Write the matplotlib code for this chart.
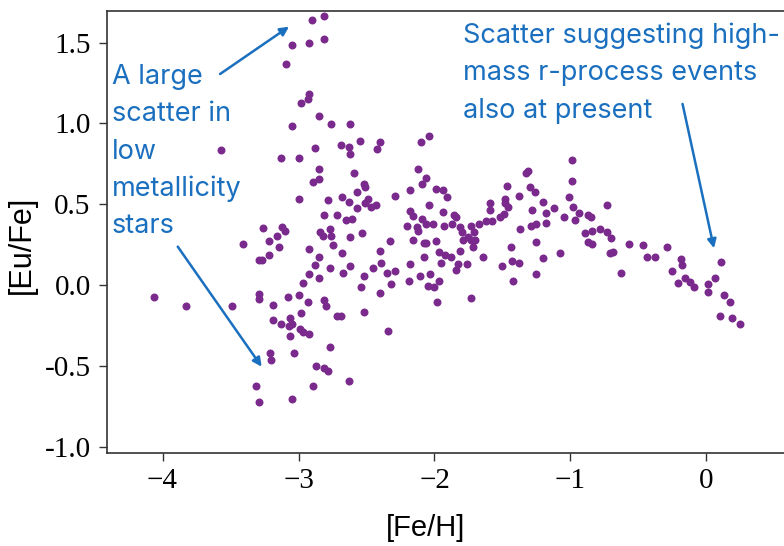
import matplotlib
matplotlib.use("Agg")
import matplotlib.pyplot as plt

# ---- data ----
fe_h = [
    -2.90, -2.81, -3.05, -2.92, -2.81, -3.09, -2.92, -2.93, -2.98, -2.85, -3.05, -2.76, -3.57, -2.88, -3.13, -3.00,
    -2.85, -2.85, -2.89, -3.00, -2.78, -2.81, -2.72, -3.26, -3.12, -3.10,
    -2.84, -2.82, -2.77, -2.76, -3.16, -3.22, -3.41, -3.14, -2.75, -2.92,
    -2.85, -3.22, -3.29, -3.27, -2.88, -2.77, -2.92, -2.85, -2.97, -4.06,
    -3.83, -3.49, -3.29, -3.29, -3.19, -3.08, -3.00, -2.93, -2.81, -2.80,
    -3.19, -3.13, -3.06, -3.07, -3.05, -2.98, -2.99, -2.97, -2.92, -3.06,
    -2.72, -2.69, -2.77, -3.21, -3.20, -3.03, -2.87, -2.81, -2.78, -2.63,
    -3.31, -2.89, -3.29, -3.05,
    -2.52, -2.34,
    -2.62, -2.69, -2.63, -2.62, -2.55, -2.40, -2.42, -2.10, -2.04, -2.59,
    -2.68, -2.63, -2.57, -2.52, -2.51, -2.57, -2.49, -2.51, -2.47, -2.43,
    -2.29, -2.65, -2.61, -2.53, -2.62, -2.68, -2.62, -2.67, -2.52, -2.54,
    -2.45, -2.40, -2.33, -2.39, -2.35, -2.29, -2.32, -2.40,
    -2.12, -2.06, -2.09, -2.18, -1.99, -1.94, -1.91, -2.04, -2.18, -2.16,
    -2.20, -2.13, -2.12, -2.09, -2.06, -2.01, -1.94, -1.86, -1.84, -1.93,
    -1.87, -2.16, -2.08, -2.06, -1.99, -1.81, -1.80, -1.73, -1.71, -1.75,
    -1.79, -1.73, -1.70, -1.72, -2.08, -1.97, -1.92, -1.88, -1.81, -1.95,
    -1.83, -1.76, -1.84, -2.18, -2.11, -2.03, -1.97, -2.19, -2.05, -2.00,
    -1.98, -1.73,
    -1.64, -1.67, -1.62, -1.58, -1.59, -1.59, -1.52, -1.49, -1.48, -1.47,
    -1.48, -1.46, -1.38, -1.33, -1.31, -1.30, -1.26, -1.44, -1.50, -1.43,
    -1.38, -1.42, -1.37, -1.28, -1.29, -1.25, -1.25, -1.20, -1.18, -1.18,
    -1.20, -1.25, -1.12, -1.08,
    -0.99, -0.99, -1.01, -0.98, -0.94, -1.05, -0.97, -0.87, -0.85, -0.73,
    -0.89, -0.84, -0.78, -0.73, -0.70, -0.87, -0.84, -0.71, -0.69, -0.63,
    -0.57, -0.47, -0.44, -0.38, -0.29, -0.19, -0.18, -0.25, -0.16, -0.12,
    -0.09, -0.21, 0.01, 0.01, 0.06, 0.11, 0.13, 0.17, 0.10, 0.19,
    0.25,
]

eu_fe = [
    1.64, 1.665, 1.485, 1.50, 1.52, 1.366, 1.184, 1.153, 1.124, 1.044, 0.982, 0.994, 0.834, 0.848, 0.788, 0.788,
    0.716, 0.654, 0.636, 0.532, 0.524, 0.433, 0.433, 0.353, 0.357, 0.334,
    0.330, 0.303, 0.347, 0.303, 0.301, 0.274, 0.254, 0.233, 0.246, 0.225,
    0.173, 0.184, 0.155, 0.155, 0.124, 0.105, 0.066, 0.045, 0.011, -0.072,
    -0.132, -0.132, -0.056, -0.087, -0.124, -0.072, -0.064, -0.105, -0.091, -0.130,
    -0.217, -0.243, -0.202, -0.254, -0.243, -0.175, -0.274, -0.293, -0.303, -0.316,
    -0.194, -0.194, -0.386, -0.423, -0.464, -0.423, -0.501, -0.515, -0.534, -0.592,
    -0.625, -0.625, -0.724, -0.704,
    -0.165, -0.287,
    0.996, 0.866, 0.856, 0.809, 0.893, 0.885, 0.842, 0.883, 0.924, 0.693,
    0.546, 0.515, 0.577, 0.625, 0.605, 0.478, 0.530, 0.506, 0.485, 0.495,
    0.551, 0.402, 0.408, 0.324, 0.295, 0.196, 0.118, 0.076, 0.056, -0.014,
    0.103, 0.212, 0.272, 0.136, 0.076, 0.087, 0.006, -0.051,
    0.716, 0.664, 0.623, 0.586, 0.592, 0.586, 0.543, 0.495, 0.458, 0.427,
    0.365, 0.361, 0.334, 0.407, 0.377, 0.377, 0.450, 0.435, 0.423, 0.365,
    0.377, 0.278, 0.258, 0.262, 0.272, 0.357, 0.326, 0.365, 0.330, 0.295,
    0.278, 0.278, 0.278, 0.237, 0.175, 0.204, 0.186, 0.175, 0.212, 0.138,
    0.130, 0.128, 0.093, 0.128, 0.056, 0.066, 0.025, 0.025, -0.004, -0.014,
    -0.103, -0.079,
    0.175, 0.377, 0.398, 0.398, 0.506, 0.464, 0.423, 0.437, 0.530, 0.613,
    0.506, 0.485, 0.553, 0.691, 0.705, 0.608, 0.577, 0.237, 0.118, 0.147,
    0.138, 0.025, 0.347, 0.464, 0.365, 0.377, 0.264, 0.515, 0.444, 0.386,
    0.165, 0.068, 0.476, 0.196,
    0.774, 0.644, 0.546, 0.485, 0.447, 0.423, 0.402, 0.435, 0.423, 0.495,
    0.320, 0.334, 0.347, 0.330, 0.293, 0.268, 0.254, 0.196, 0.206, 0.072,
    0.256, 0.246, 0.175, 0.175, 0.233, 0.159, 0.124, 0.087, 0.045, 0.017,
    -0.014, 0.014, 0.005, -0.045, 0.045, 0.142, -0.064, -0.105, -0.192, -0.204,
    -0.241,
]

x_ticks = [-4, -3, -2, -1, 0]
x_tick_labels = ["\u22124", "\u22123", "\u22122", "\u22121", "0"]
y_ticks = [-1.0, -0.5, 0.0, 0.5, 1.0, 1.5]
y_tick_labels = ["-1.0", "-0.5", "0.0", "0.5", "1.0", "1.5"]

x_label = "[Fe/H]"
y_label = "[Eu/Fe]"
note_left = ["A large", "scatter in", "low", "metallicity", "stars"]
note_right = ["Scatter suggesting high-", "mass r-process events", "also at present"]

POINT_COLOR = "#7a2a8c"
NOTE_COLOR = "#1a6fbf"
W, H = 784, 546

fig = plt.figure(figsize=(W / 100, H / 100), dpi=100)
ax = fig.add_axes([107.3 / W, (H - 452.7) / H, (W - 107.3) / W, (452.7 - 11) / H])

ax.scatter(fe_h, eu_fe, s=33, color=POINT_COLOR, linewidths=0, zorder=3)

ax.set_xlim(-4.406, 0.57)
ax.set_ylim(-1.037, 1.696)
ax.spines["right"].set_visible(False)
for sp in ("left", "bottom", "top"):
    ax.spines[sp].set_color("#333333")
    ax.spines[sp].set_linewidth(1.2)

ax.set_xticks(x_ticks)
ax.set_xticklabels(x_tick_labels, family="Liberation Serif", fontsize=21)
ax.set_yticks(y_ticks)
ax.set_yticklabels(y_tick_labels, family="Liberation Serif", fontsize=21)
ax.tick_params(axis="both", direction="out", length=6, width=1.0, color="#333333")
ax.tick_params(axis="x", pad=5)
ax.tick_params(axis="y", pad=6)

fig.text(426 / W, 1 - 536 / H, x_label, family="Liberation Sans", fontsize=21,
         ha="center", va="baseline")
fig.text(22 / W, 1 - 245 / H, y_label, family="Liberation Sans", fontsize=22,
         ha="center", va="center", rotation=90)

# annotation texts
for i, line in enumerate(note_left):
    fig.text(112 / W, 1 - (84 + 37.3 * i) / H, line, family="Inter", fontsize=19.5,
             color=NOTE_COLOR, ha="left", va="baseline")
for i, line in enumerate(note_right):
    fig.text(463 / W, 1 - (43 + 37.5 * i) / H, line, family="Inter", fontsize=19.5,
             color=NOTE_COLOR, ha="left", va="baseline")

arrow_kw = dict(arrowstyle="-|>", color=NOTE_COLOR, lw=1.8, mutation_scale=13,
                shrinkA=0, shrinkB=0)
ax.annotate("", xy=(-3.070, 1.599), xytext=(-3.577, 1.306), arrowprops=arrow_kw,
            annotation_clip=False)
ax.annotate("", xy=(-3.271, -0.505), xytext=(-3.888, 0.238), arrowprops=arrow_kw,
            annotation_clip=False)
ax.annotate("", xy=(0.055, 0.228), xytext=(-0.176, 1.121), arrowprops=arrow_kw,
            annotation_clip=False)

fig.savefig("out.png", dpi=100)
